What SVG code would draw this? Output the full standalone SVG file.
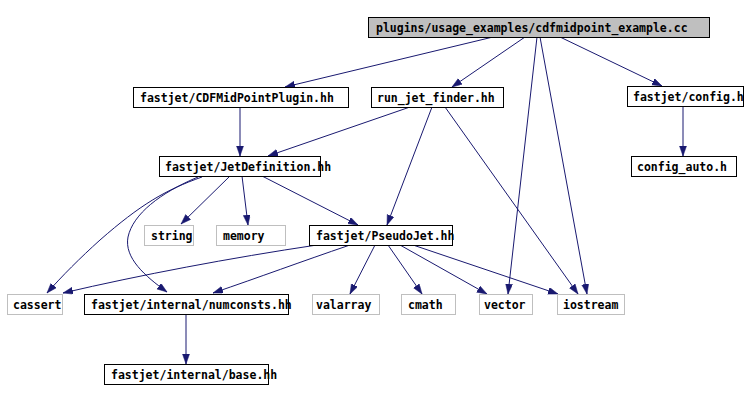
<svg xmlns="http://www.w3.org/2000/svg" width="744" height="401" viewBox="0 0 744 401">
<style>
.n rect{fill:#fff;stroke:#000;stroke-width:1}
.n.g rect{stroke:#bfbfbf}
.n.root rect{fill:#bfbfbf}
.n text{font-family:"DejaVu Sans Mono","Liberation Mono",monospace;font-weight:bold;font-size:11.5px;fill:#000}
#edges path{fill:none;stroke:#191970;stroke-width:1;marker-end:url(#ah)}
</style>
<defs>
<marker id="ah" markerUnits="userSpaceOnUse" markerWidth="11" markerHeight="8" refX="10" refY="3.5" orient="auto">
<path d="M0,0 L10,3.5 L0,7 z" fill="#191970" stroke="#191970" stroke-width="0.5"/>
</marker>
</defs>
<rect width="744" height="401" fill="#fff"/>
<g id="edges">
<path d="M493,37 L285,87"/>
<path d="M525,37 L452,87"/>
<path d="M537,37 L508,294"/>
<path d="M540,37 L587,294"/>
<path d="M560,37 L662,86"/>
<path d="M240,107 L240,156"/>
<path d="M410,107 L268,156"/>
<path d="M432,107 L387,225"/>
<path d="M445,107 L578,294"/>
<path d="M683,106 L683,156"/>
<path d="M230,176 L181,224"/>
<path d="M242,176 L248,225"/>
<path d="M262,176 L358,225"/>
<path d="M202,177 C165,190 140,205 100,240 C80,258 62,276 47,293"/>
<path d="M198,177 C160,193 133,214 128,237 C124,258 145,276 167,292"/>
<path d="M317,245 C230,258 140,275 63,293"/>
<path d="M350,245 C300,262 260,277 213,293"/>
<path d="M375,245 L350,294"/>
<path d="M388,245 L422,294"/>
<path d="M400,245 L487,294"/>
<path d="M413,245 L558,294"/>
<path d="M186,314 L186,364"/>
</g>
<g id="node-root" class="n root"><rect x="368.5" y="17.5" width="341" height="20"/><text x="376" y="32">plugins/usage_examples/cdfmidpoint_example.cc</text></g>
<g id="node-cdf" class="n"><rect x="133.5" y="87.5" width="215" height="20"/><text x="140" y="102">fastjet/CDFMidPointPlugin.hh</text></g>
<g id="node-runjet" class="n"><rect x="371.5" y="87.5" width="132" height="20"/><text x="377" y="102">run_jet_finder.hh</text></g>
<g id="node-config" class="n"><rect x="627.5" y="86.5" width="116" height="20"/><text x="633" y="101">fastjet/config.h</text></g>
<g id="node-configauto" class="n"><rect x="631.5" y="156.5" width="105" height="20"/><text x="637" y="171">config_auto.h</text></g>
<g id="node-jetdef" class="n"><rect x="159.5" y="156.5" width="161" height="20"/><text x="165" y="171">fastjet/JetDefinition.hh</text></g>
<g id="node-string" class="n g"><rect x="144.5" y="225.5" width="49" height="20"/><text x="151" y="240">string</text></g>
<g id="node-memory" class="n g"><rect x="216.5" y="225.5" width="69" height="20"/><text x="223" y="240">memory</text></g>
<g id="node-pseudojet" class="n"><rect x="309.5" y="225.5" width="143" height="20"/><text x="316" y="240">fastjet/PseudoJet.hh</text></g>
<g id="node-cassert" class="n g"><rect x="7.5" y="294.5" width="55" height="20"/><text x="13" y="309">cassert</text></g>
<g id="node-numconsts" class="n"><rect x="84.5" y="294.5" width="204" height="20"/><text x="91" y="309">fastjet/internal/numconsts.hh</text></g>
<g id="node-valarray" class="n g"><rect x="312.5" y="294.5" width="67" height="20"/><text x="316" y="309">valarray</text></g>
<g id="node-cmath" class="n g"><rect x="401.5" y="294.5" width="54" height="20"/><text x="408" y="309">cmath</text></g>
<g id="node-vector" class="n g"><rect x="479.5" y="294.5" width="53" height="20"/><text x="484" y="309">vector</text></g>
<g id="node-iostream" class="n g"><rect x="557.5" y="294.5" width="67" height="20"/><text x="563" y="309">iostream</text></g>
<g id="node-base" class="n"><rect x="104.5" y="364.5" width="164" height="20"/><text x="111" y="379">fastjet/internal/base.hh</text></g>
</svg>
